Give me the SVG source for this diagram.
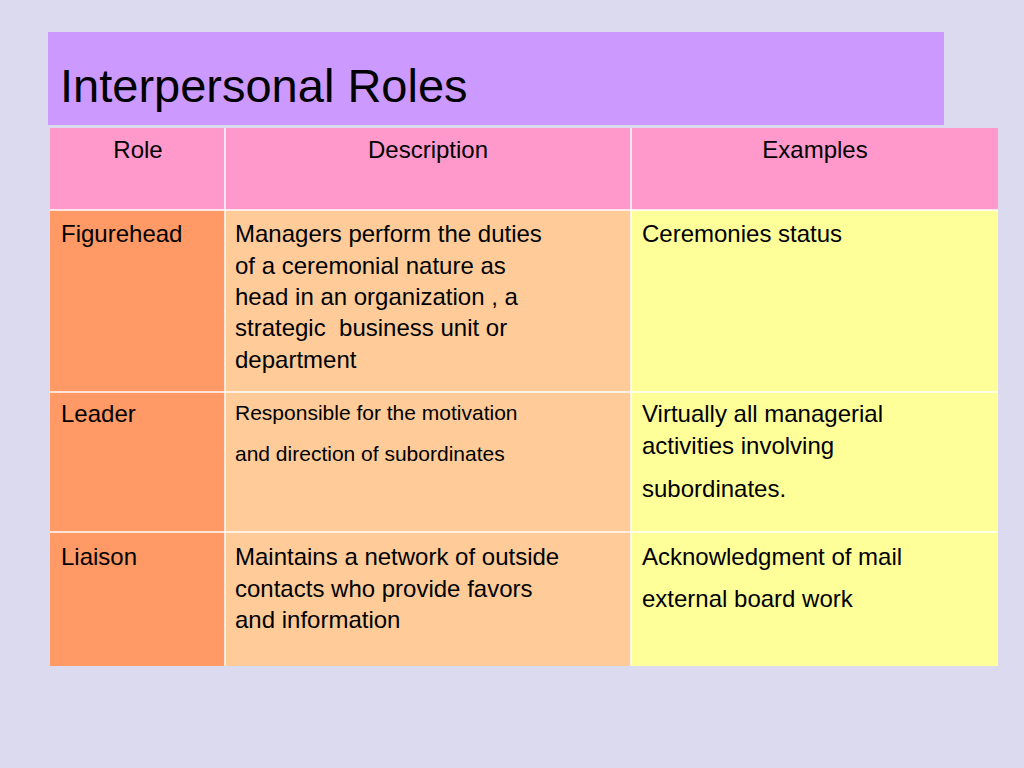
<svg xmlns="http://www.w3.org/2000/svg" width="1024" height="768" viewBox="0 0 1024 768">
<style>
text{font-family:"Liberation Sans",Arial,sans-serif;fill:#000}
.b{font-size:24px}.s{font-size:21px}.h{font-size:24px;text-anchor:middle}
line{stroke:#fff;stroke-width:1.5}
</style>
<rect width="1024" height="768" fill="#DCDAEE"/>
<rect x="48" y="32" width="896" height="93" fill="#CC99FF"/>
<text x="60" y="102" style="font-size:47px">Interpersonal Roles</text>
<rect x="50" y="128" width="948" height="82" fill="#FF99CC"/>
<rect x="50" y="210" width="175" height="456" fill="#FF9966"/>
<rect x="225" y="210" width="406" height="456" fill="#FFCC99"/>
<rect x="631" y="210" width="367" height="456" fill="#FFFF99"/>
<g>
<line x1="225" y1="128" x2="225" y2="666"/><line x1="631" y1="128" x2="631" y2="666"/>
<line x1="50" y1="210" x2="998" y2="210"/><line x1="50" y1="392" x2="998" y2="392"/><line x1="50" y1="532" x2="998" y2="532"/>
</g>
<text class="h" x="138" y="158">Role</text>
<text class="h" x="428" y="158">Description</text>
<text class="h" x="815" y="158">Examples</text>
<text class="b" x="61" y="242">Figurehead</text>
<text class="b" x="235" y="242">Managers perform the duties</text>
<text class="b" x="235" y="274">of a ceremonial nature as</text>
<text class="b" x="235" y="305">head in an organization , a</text>
<text class="b" x="235" y="336" xml:space="preserve">strategic  business unit or</text>
<text class="b" x="235" y="368">department</text>
<text class="b" x="642" y="242">Ceremonies status</text>
<text class="b" x="61" y="422">Leader</text>
<text class="s" x="235" y="420">Responsible for the motivation</text>
<text class="s" x="235" y="461">and direction of subordinates</text>
<text class="b" x="642" y="422">Virtually all managerial</text>
<text class="b" x="642" y="454">activities involving</text>
<text class="b" x="642" y="497">subordinates.</text>
<text class="b" x="61" y="565">Liaison</text>
<text class="b" x="235" y="565">Maintains a network of outside</text>
<text class="b" x="235" y="597">contacts who provide favors</text>
<text class="b" x="235" y="628">and information</text>
<text class="b" x="642" y="565">Acknowledgment of mail</text>
<text class="b" x="642" y="607">external board work</text>
</svg>
